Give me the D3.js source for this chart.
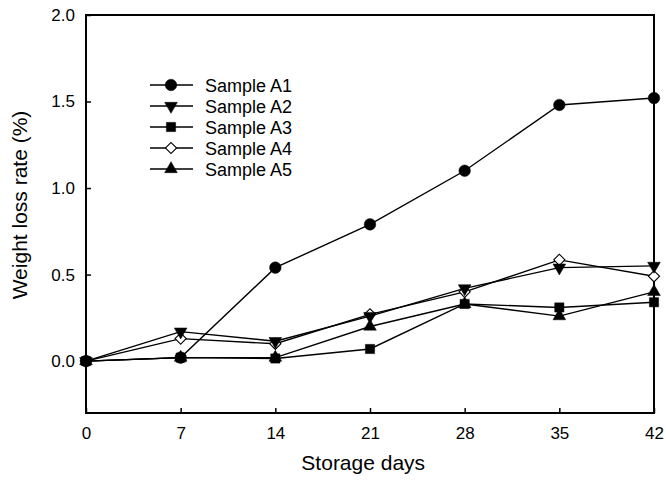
<!DOCTYPE html>
<html>
<head>
<meta charset="utf-8">
<script src="https://cdn.jsdelivr.net/npm/d3@7"></script>
<style>
body { margin: 0; background: #fff; }
svg { font-family: Arial, "Liberation Sans", sans-serif; }
.frame { fill: none; stroke: #000; stroke-width: 2; }
.series { fill: none; stroke: #000; stroke-width: 1.4; }
.tick line { stroke: #000; stroke-width: 1.5; }
.tick text { font-size: 17px; fill: #000; }
</style>
</head>
<body>
<svg class="chart" width="666" height="485"></svg>
<script>
// storage days and weight loss (%) per sample
var days = [0, 7, 14, 21, 28, 35, 42];
var sampleA1 = [0, 0.02, 0.54, 0.79, 1.10, 1.48, 1.52];
var sampleA2 = [0, 0.17, 0.115, 0.26, 0.42, 0.54, 0.55];
var sampleA3 = [0, 0.02, 0.015, 0.07, 0.33, 0.31, 0.34];
var sampleA4 = [0, 0.13, 0.10, 0.27, 0.40, 0.585, 0.49];
var sampleA5 = [0, 0.02, 0.02, 0.20, 0.33, 0.26, 0.40];
var names = ["Sample A1", "Sample A2", "Sample A3", "Sample A4", "Sample A5"];
var yTicks = [0, 0.5, 1.0, 1.5, 2.0];

var series = [
	{name: names[0], values: sampleA1, sym: "circle"},
	{name: names[1], values: sampleA2, sym: "down"},
	{name: names[2], values: sampleA3, sym: "square"},
	{name: names[3], values: sampleA4, sym: "diamond"},
	{name: names[4], values: sampleA5, sym: "up"}
];

var svg = d3.select(".chart"),
	margin = {top: 15, right: 12, bottom: 72, left: 86},
	width = +svg.attr("width") - margin.left - margin.right,
	height = +svg.attr("height") - margin.top - margin.bottom,
	g = svg.append("g").attr("transform", "translate(" + margin.left + "," + margin.top + ")");

var x = d3.scaleLinear().domain([0, 42]).range([0, width]);
var y = d3.scaleLinear().domain([-0.3, 2.0]).range([height, 0]);

// axes, ticks pointing inward
var xAxis = g.append("g")
	.attr("transform", "translate(0," + height + ")")
	.call(d3.axisBottom(x).tickValues(days).tickSize(-5).tickPadding(14).tickFormat(d3.format("d")));
xAxis.select(".domain").remove();

var yAxis = g.append("g")
	.call(d3.axisLeft(y).tickValues(yTicks).tickSize(-5).tickPadding(11).tickFormat(d3.format(".1f")));
yAxis.select(".domain").remove();

g.append("rect").attr("class", "frame")
	.attr("x", 0).attr("y", 0).attr("width", width).attr("height", height);

function drawSymbol(sel, sym) {
	var s, rot = null;
	if (sym == "circle") s = d3.symbol().type(d3.symbolCircle).size(105);
	else if (sym == "square") s = d3.symbol().type(d3.symbolSquare).size(85);
	else if (sym == "diamond") { s = d3.symbol().type(d3.symbolSquare).size(62); rot = "rotate(45)"; }
	else s = d3.symbol().type(d3.symbolTriangle).size(70);
	if (sym == "down") rot = "rotate(180)";
	sel.append("path")
		.attr("d", s)
		.attr("transform", rot)
		.attr("fill", sym == "diamond" ? "#fff" : "#000")
		.attr("stroke", "#000")
		.attr("stroke-width", sym == "diamond" ? 1.1 : 0.5);
}

var line = d3.line()
	.x(function(d, i) { return x(days[i]); })
	.y(function(d) { return y(d); });

// draw in reverse so A1 sits on top
series.slice().reverse().forEach(function(s) {
	g.append("path").attr("class", "series").attr("d", line(s.values));
	g.selectAll(null)
		.data(s.values)
		.enter().append("g")
		.attr("transform", function(d, i) { return "translate(" + x(days[i]) + "," + y(d) + ")"; })
		.each(function() { drawSymbol(d3.select(this), s.sym); });
});

// legend
var legend = g.append("g").attr("transform", "translate(64,70)");
series.forEach(function(s, i) {
	var row = legend.append("g").attr("transform", "translate(0," + (i * 21) + ")");
	row.append("line").attr("x1", 0).attr("x2", 43).attr("y1", 0).attr("y2", 0)
		.attr("stroke", "#000").attr("stroke-width", 1.4);
	var m = row.append("g").attr("transform", "translate(21,0)");
	drawSymbol(m, s.sym);
	row.append("text").attr("x", 55).attr("y", 6.5)
		.attr("font-size", "18px").text(s.name);
});

// axis titles
svg.append("text")
	.attr("x", margin.left + x(20.5)).attr("y", 470)
	.attr("text-anchor", "middle").attr("font-size", "21px")
	.text("Storage days");

svg.append("text")
	.attr("transform", "translate(27,205) rotate(-90)")
	.attr("text-anchor", "middle").attr("font-size", "21px")
	.text("Weight loss rate (%)");
</script>
</body>
</html>
